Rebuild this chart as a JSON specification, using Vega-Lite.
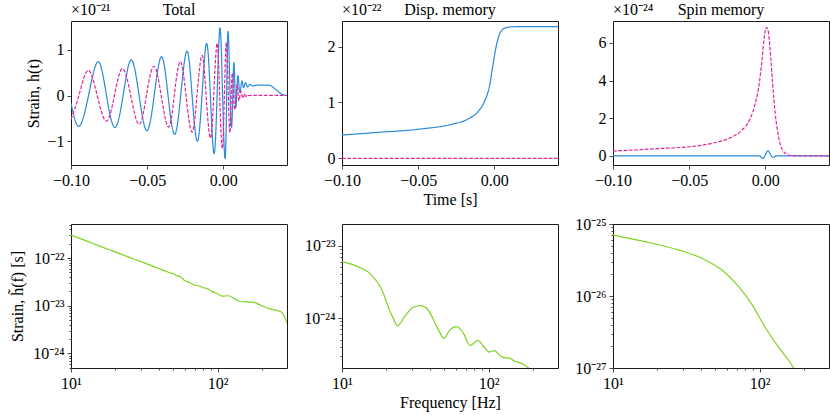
{
  "$schema": "https://vega.github.io/schema/vega-lite/v6.json",
  "padding": {"left": 8, "top": 1, "right": 2, "bottom": 2},
  "background": "white",
  "datasets": {
    "total": [
      {"t": -0.1, "h": -0.17, "pol": "plus"},
      {"t": -0.0947, "h": -0.67, "pol": "plus"},
      {"t": -0.0885, "h": 0, "pol": "plus"},
      {"t": -0.0822, "h": 0.74, "pol": "plus"},
      {"t": -0.0767, "h": 0, "pol": "plus"},
      {"t": -0.0712, "h": -0.7, "pol": "plus"},
      {"t": -0.0658, "h": 0, "pol": "plus"},
      {"t": -0.0605, "h": 0.78, "pol": "plus"},
      {"t": -0.0553, "h": 0, "pol": "plus"},
      {"t": -0.0502, "h": -0.77, "pol": "plus"},
      {"t": -0.0454, "h": 0, "pol": "plus"},
      {"t": -0.0406, "h": 0.85, "pol": "plus"},
      {"t": -0.0363, "h": 0, "pol": "plus"},
      {"t": -0.032, "h": -0.85, "pol": "plus"},
      {"t": -0.028, "h": 0, "pol": "plus"},
      {"t": -0.0239, "h": 0.97, "pol": "plus"},
      {"t": -0.0205, "h": 0, "pol": "plus"},
      {"t": -0.0171, "h": -1.0, "pol": "plus"},
      {"t": -0.014, "h": 0, "pol": "plus"},
      {"t": -0.011, "h": 1.14, "pol": "plus"},
      {"t": -0.0085, "h": 0, "pol": "plus"},
      {"t": -0.0061, "h": -1.27, "pol": "plus"},
      {"t": -0.0041, "h": 0, "pol": "plus"},
      {"t": -0.0022, "h": 1.48, "pol": "plus"},
      {"t": -0.0005, "h": 0, "pol": "plus"},
      {"t": 0.0011, "h": -1.38, "pol": "plus"},
      {"t": 0.0022, "h": 0, "pol": "plus"},
      {"t": 0.0033, "h": 1.33, "pol": "plus"},
      {"t": 0.0053, "h": -0.69, "pol": "plus"},
      {"t": 0.0068, "h": 0.7, "pol": "plus"},
      {"t": 0.0081, "h": -0.24, "pol": "plus"},
      {"t": 0.0094, "h": 0.41, "pol": "plus"},
      {"t": 0.0107, "h": 0.08, "pol": "plus"},
      {"t": 0.0121, "h": 0.31, "pol": "plus"},
      {"t": 0.0132, "h": 0.175, "pol": "plus"},
      {"t": 0.0145, "h": 0.28, "pol": "plus"},
      {"t": 0.0158, "h": 0.19, "pol": "plus"},
      {"t": 0.0173, "h": 0.24, "pol": "plus"},
      {"t": 0.019, "h": 0.21, "pol": "plus"},
      {"t": 0.0217, "h": 0.225, "pol": "plus"},
      {"t": 0.026, "h": 0.228, "pol": "plus"},
      {"t": 0.0303, "h": 0.222, "pol": "plus"},
      {"t": 0.033, "h": 0.17, "pol": "plus"},
      {"t": 0.0349, "h": 0.12, "pol": "plus"},
      {"t": 0.037, "h": 0.06, "pol": "plus"},
      {"t": 0.039, "h": 0.02, "pol": "plus"},
      {"t": 0.0418, "h": 0, "pol": "plus"},
      {"t": -0.1, "h": -0.52, "pol": "cross"},
      {"t": -0.0948, "h": 0, "pol": "cross"},
      {"t": -0.0888, "h": 0.55, "pol": "cross"},
      {"t": -0.0828, "h": 0, "pol": "cross"},
      {"t": -0.0768, "h": -0.56, "pol": "cross"},
      {"t": -0.0715, "h": 0, "pol": "cross"},
      {"t": -0.0662, "h": 0.59, "pol": "cross"},
      {"t": -0.0608, "h": 0, "pol": "cross"},
      {"t": -0.0553, "h": -0.63, "pol": "cross"},
      {"t": -0.0505, "h": 0, "pol": "cross"},
      {"t": -0.0456, "h": 0.64, "pol": "cross"},
      {"t": -0.0408, "h": 0, "pol": "cross"},
      {"t": -0.036, "h": -0.69, "pol": "cross"},
      {"t": -0.0322, "h": 0, "pol": "cross"},
      {"t": -0.0283, "h": 0.74, "pol": "cross"},
      {"t": -0.0245, "h": 0, "pol": "cross"},
      {"t": -0.0206, "h": -0.8, "pol": "cross"},
      {"t": -0.0173, "h": 0, "pol": "cross"},
      {"t": -0.014, "h": 0.88, "pol": "cross"},
      {"t": -0.0113, "h": 0, "pol": "cross"},
      {"t": -0.0085, "h": -0.93, "pol": "cross"},
      {"t": -0.0063, "h": 0, "pol": "cross"},
      {"t": -0.0041, "h": 1.14, "pol": "cross"},
      {"t": -0.0024, "h": 0, "pol": "cross"},
      {"t": -0.0007, "h": -1.16, "pol": "cross"},
      {"t": 0.0007, "h": 0, "pol": "cross"},
      {"t": 0.002, "h": 1.16, "pol": "cross"},
      {"t": 0.0033, "h": 0, "pol": "cross"},
      {"t": 0.0045, "h": -0.75, "pol": "cross"},
      {"t": 0.0058, "h": 0.48, "pol": "cross"},
      {"t": 0.0073, "h": -0.3, "pol": "cross"},
      {"t": 0.0089, "h": 0.22, "pol": "cross"},
      {"t": 0.0101, "h": -0.1, "pol": "cross"},
      {"t": 0.0114, "h": 0.09, "pol": "cross"},
      {"t": 0.0126, "h": -0.05, "pol": "cross"},
      {"t": 0.014, "h": 0.03, "pol": "cross"},
      {"t": 0.0152, "h": -0.01, "pol": "cross"},
      {"t": 0.017, "h": 0, "pol": "cross"},
      {"t": 0.0418, "h": 0, "pol": "cross"}
    ],
    "disp": [
      {"t": -0.1, "h": 0.416, "pol": "plus"},
      {"t": -0.079, "h": 0.46, "pol": "plus"},
      {"t": -0.05, "h": 0.52, "pol": "plus"},
      {"t": -0.028, "h": 0.61, "pol": "plus"},
      {"t": -0.0175, "h": 0.7, "pol": "plus"},
      {"t": -0.0109, "h": 0.83, "pol": "plus"},
      {"t": -0.0066, "h": 1.01, "pol": "plus"},
      {"t": -0.0033, "h": 1.28, "pol": "plus"},
      {"t": -0.0011, "h": 1.64, "pol": "plus"},
      {"t": 0.0011, "h": 1.99, "pol": "plus"},
      {"t": 0.0035, "h": 2.23, "pol": "plus"},
      {"t": 0.0066, "h": 2.33, "pol": "plus"},
      {"t": 0.011, "h": 2.355, "pol": "plus"},
      {"t": 0.02, "h": 2.36, "pol": "plus"},
      {"t": 0.0418, "h": 2.36, "pol": "plus"},
      {"t": -0.1, "h": 0, "pol": "cross"},
      {"t": 0.0418, "h": 0, "pol": "cross"}
    ],
    "spin": [
      {"t": -0.1, "h": 0, "pol": "plus"},
      {"t": -0.004, "h": 0, "pol": "plus"},
      {"t": -0.0015, "h": -0.14, "pol": "plus"},
      {"t": 0.0017, "h": 0.27, "pol": "plus"},
      {"t": 0.0048, "h": -0.08, "pol": "plus"},
      {"t": 0.0076, "h": 0, "pol": "plus"},
      {"t": 0.0418, "h": 0, "pol": "plus"},
      {"t": -0.1, "h": 0.25, "pol": "cross"},
      {"t": -0.0682, "h": 0.39, "pol": "cross"},
      {"t": -0.05, "h": 0.48, "pol": "cross"},
      {"t": -0.0352, "h": 0.66, "pol": "cross"},
      {"t": -0.0242, "h": 0.92, "pol": "cross"},
      {"t": -0.0154, "h": 1.36, "pol": "cross"},
      {"t": -0.0099, "h": 1.98, "pol": "cross"},
      {"t": -0.0066, "h": 2.78, "pol": "cross"},
      {"t": -0.004, "h": 3.84, "pol": "cross"},
      {"t": -0.0022, "h": 5.08, "pol": "cross"},
      {"t": -0.0007, "h": 6.32, "pol": "cross"},
      {"t": 0.0006, "h": 6.82, "pol": "cross"},
      {"t": 0.0017, "h": 6.7, "pol": "cross"},
      {"t": 0.0032, "h": 5.61, "pol": "cross"},
      {"t": 0.0048, "h": 3.84, "pol": "cross"},
      {"t": 0.0065, "h": 2.25, "pol": "cross"},
      {"t": 0.0087, "h": 1.01, "pol": "cross"},
      {"t": 0.0113, "h": 0.3, "pol": "cross"},
      {"t": 0.0153, "h": 0.04, "pol": "cross"},
      {"t": 0.02, "h": 0, "pol": "cross"},
      {"t": 0.0418, "h": 0, "pol": "cross"}
    ],
    "ftotal": [
      {"f": 10, "h": 3.05e-22},
      {"f": 12.59, "h": 2.32e-22},
      {"f": 15.85, "h": 1.76e-22},
      {"f": 19.95, "h": 1.35e-22},
      {"f": 25.12, "h": 1.035e-22},
      {"f": 31.62, "h": 7.94e-23},
      {"f": 39.81, "h": 6.03e-23},
      {"f": 44.67, "h": 5.25e-23},
      {"f": 47.86, "h": 4.84e-23},
      {"f": 50.12, "h": 4.68e-23},
      {"f": 52.48, "h": 4.27e-23},
      {"f": 54.95, "h": 4.17e-23},
      {"f": 57.54, "h": 3.72e-23},
      {"f": 60.26, "h": 3.31e-23},
      {"f": 63.1, "h": 3.16e-23},
      {"f": 66.07, "h": 2.95e-23},
      {"f": 69.98, "h": 2.69e-23},
      {"f": 74.13, "h": 2.63e-23},
      {"f": 79.43, "h": 2.4e-23},
      {"f": 85.11, "h": 2.29e-23},
      {"f": 91.2, "h": 2.0e-23},
      {"f": 100, "h": 1.78e-23},
      {"f": 107.2, "h": 1.585e-23},
      {"f": 118.9, "h": 1.62e-23},
      {"f": 128.8, "h": 1.445e-23},
      {"f": 139.3, "h": 1.26e-23},
      {"f": 158.5, "h": 1.2e-23},
      {"f": 177.8, "h": 1.175e-23},
      {"f": 199.5, "h": 1.0e-23},
      {"f": 223.9, "h": 8.71e-24},
      {"f": 251.2, "h": 8.04e-24},
      {"f": 269.2, "h": 7.59e-24},
      {"f": 283.8, "h": 6.31e-24},
      {"f": 297.9, "h": 4.37e-24}
    ],
    "fdisp": [
      {"f": 10, "h": 6.03e-24},
      {"f": 12.8, "h": 5.13e-24},
      {"f": 15.8, "h": 3.98e-24},
      {"f": 18.5, "h": 2.57e-24},
      {"f": 21.1, "h": 1.29e-24},
      {"f": 22.6, "h": 9.5e-25},
      {"f": 23.9, "h": 7.76e-25},
      {"f": 26.8, "h": 1.05e-24},
      {"f": 30.6, "h": 1.41e-24},
      {"f": 34.5, "h": 1.48e-24},
      {"f": 38.7, "h": 1.29e-24},
      {"f": 45.4, "h": 6.92e-25},
      {"f": 49.6, "h": 5.25e-25},
      {"f": 54.6, "h": 6.92e-25},
      {"f": 60.6, "h": 7.59e-25},
      {"f": 67.3, "h": 6.17e-25},
      {"f": 74.8, "h": 4.17e-25},
      {"f": 84.5, "h": 4.9e-25},
      {"f": 92.4, "h": 4.07e-25},
      {"f": 101.6, "h": 3.39e-25},
      {"f": 110, "h": 3.55e-25},
      {"f": 120, "h": 3.02e-25},
      {"f": 130, "h": 2.82e-25},
      {"f": 137, "h": 2.82e-25},
      {"f": 152, "h": 2.51e-25},
      {"f": 165, "h": 2.4e-25},
      {"f": 190, "h": 2.0e-25},
      {"f": 224, "h": 1.41e-25},
      {"f": 298, "h": 6.3e-26}
    ],
    "fspin": [
      {"f": 10, "h": 7.0e-26},
      {"f": 16.5, "h": 5.69e-26},
      {"f": 27.9, "h": 4.37e-26},
      {"f": 40.4, "h": 3.35e-26},
      {"f": 55.4, "h": 2.29e-26},
      {"f": 72.1, "h": 1.35e-26},
      {"f": 88.9, "h": 7.59e-27},
      {"f": 110, "h": 3.59e-27},
      {"f": 136, "h": 1.9e-27},
      {"f": 159, "h": 1.26e-27},
      {"f": 181, "h": 8.3e-28},
      {"f": 200, "h": 6.0e-28}
    ]
  },
  "columns": 3,
  "spacing": {"row": 59, "column": 55},
  "bounds": "flush",
  "concat": [
    {
      "width": 216,
      "height": 144,
      "layer": [
        {
          "data": {"name": "total"},
          "mark": {"type": "line", "interpolate": "natural", "strokeWidth": 1.2, "clip": true},
          "encoding": {
            "x": {"field": "t", "type": "quantitative", "scale": {"domain": [-0.1, 0.0418], "nice": false, "zero": false},
                  "axis": {"values": [-0.1, -0.05, 0], "format": ".2f", "title": null}},
            "y": {"field": "h", "type": "quantitative", "scale": {"domain": [-1.52, 1.63], "nice": false, "zero": false},
                  "axis": {"values": [-1, 0, 1], "format": "d", "title": "Strain, h(t)", "minExtent": 26, "maxExtent": 26, "titlePadding": 4}},
            "color": {"field": "pol", "type": "nominal", "scale": {"domain": ["plus", "cross"], "range": ["#2a8ad8", "#e0269a"]}, "legend": null},
            "strokeDash": {"field": "pol", "type": "nominal", "scale": {"domain": ["plus", "cross"], "range": [[1, 0], [3.7, 1.6]]}, "legend": null}
          }
        },
        {
          "data": {"values": [{"s": "×10⁻²¹"}]},
          "mark": {"type": "text", "align": "left", "baseline": "alphabetic", "dy": -6, "fontSize": 16},
          "encoding": {"x": {"datum": -0.1}, "y": {"datum": 1.63}, "text": {"field": "s"}}
        },
        {
          "data": {"values": [{"s": "Total"}]},
          "mark": {"type": "text", "align": "center", "baseline": "alphabetic", "dy": -6, "fontSize": 16},
          "encoding": {"x": {"datum": -0.0291}, "y": {"datum": 1.63}, "text": {"field": "s"}}
        }
      ]
    },
    {
      "width": 216,
      "height": 144,
      "layer": [
        {
          "data": {"name": "disp"},
          "mark": {"type": "line", "interpolate": "monotone", "strokeWidth": 1.2, "clip": true},
          "encoding": {
            "x": {"field": "t", "type": "quantitative", "scale": {"domain": [-0.1, 0.0418], "nice": false, "zero": false},
                  "axis": {"values": [-0.1, -0.05, 0], "format": ".2f", "title": "Time [s]", "minExtent": 22, "maxExtent": 22, "titlePadding": 4}},
            "y": {"field": "h", "type": "quantitative", "scale": {"domain": [-0.12, 2.46], "nice": false, "zero": false},
                  "axis": {"values": [0, 1, 2], "format": "d", "title": null}},
            "color": {"field": "pol", "type": "nominal", "scale": {"domain": ["plus", "cross"], "range": ["#2a8ad8", "#e0269a"]}, "legend": null},
            "strokeDash": {"field": "pol", "type": "nominal", "scale": {"domain": ["plus", "cross"], "range": [[1, 0], [3.7, 1.6]]}, "legend": null}
          }
        },
        {
          "data": {"values": [{"s": "×10⁻²²"}]},
          "mark": {"type": "text", "align": "left", "baseline": "alphabetic", "dy": -6, "fontSize": 16},
          "encoding": {"x": {"datum": -0.1}, "y": {"datum": 2.46}, "text": {"field": "s"}}
        },
        {
          "data": {"values": [{"s": "Disp. memory"}]},
          "mark": {"type": "text", "align": "center", "baseline": "alphabetic", "dy": -6, "fontSize": 16},
          "encoding": {"x": {"datum": -0.0291}, "y": {"datum": 2.46}, "text": {"field": "s"}}
        }
      ]
    },
    {
      "width": 216,
      "height": 144,
      "layer": [
        {
          "data": {"name": "spin"},
          "mark": {"type": "line", "interpolate": "monotone", "strokeWidth": 1.2, "clip": true},
          "encoding": {
            "x": {"field": "t", "type": "quantitative", "scale": {"domain": [-0.1, 0.0418], "nice": false, "zero": false},
                  "axis": {"values": [-0.1, -0.05, 0], "format": ".2f", "title": null}},
            "y": {"field": "h", "type": "quantitative", "scale": {"domain": [-0.49, 7.17], "nice": false, "zero": false},
                  "axis": {"values": [0, 2, 4, 6], "format": "d", "title": null}},
            "color": {"field": "pol", "type": "nominal", "scale": {"domain": ["plus", "cross"], "range": ["#2a8ad8", "#e0269a"]}, "legend": null},
            "strokeDash": {"field": "pol", "type": "nominal", "scale": {"domain": ["plus", "cross"], "range": [[1, 0], [3.7, 1.6]]}, "legend": null}
          }
        },
        {
          "data": {"values": [{"s": "×10⁻²⁴"}]},
          "mark": {"type": "text", "align": "left", "baseline": "alphabetic", "dy": -6, "fontSize": 16},
          "encoding": {"x": {"datum": -0.1}, "y": {"datum": 7.17}, "text": {"field": "s"}}
        },
        {
          "data": {"values": [{"s": "Spin memory"}]},
          "mark": {"type": "text", "align": "center", "baseline": "alphabetic", "dy": -6, "fontSize": 16},
          "encoding": {"x": {"datum": -0.0291}, "y": {"datum": 7.17}, "text": {"field": "s"}}
        }
      ]
    },
    {
      "width": 216,
      "height": 144,
      "data": {"name": "ftotal"},
      "mark": {"type": "line", "interpolate": "monotone", "strokeWidth": 1.2, "color": "#7ed321", "clip": true},
      "encoding": {
        "x": {"field": "f", "type": "quantitative", "scale": {"type": "log", "domain": [10, 298], "nice": false},
              "axis": {"values": [10, 20, 30, 40, 50, 60, 70, 80, 90, 100, 200], "title": null,
                       "labelExpr": "datum.value == 10 ? '10¹' : datum.value == 100 ? '10²' : ''",
                       "tickSize": {"condition": {"test": "datum.value == 10 || datum.value == 100", "value": 4}, "value": 2}}},
        "y": {"field": "h", "type": "quantitative", "scale": {"type": "log", "domain": [4.94e-25, 5.19e-22], "nice": false},
              "axis": {"values": [5e-25, 6e-25, 7e-25, 8e-25, 9e-25, 1e-24, 2e-24, 3e-24, 4e-24, 5e-24, 6e-24, 7e-24, 8e-24, 9e-24, 1e-23, 2e-23, 3e-23, 4e-23, 5e-23, 6e-23, 7e-23, 8e-23, 9e-23, 1e-22, 2e-22, 3e-22, 4e-22, 5e-22],
                       "title": "Strain, h̃(f) [s]", "minExtent": 42, "maxExtent": 42, "titlePadding": 4,
                       "labelExpr": "abs(log(datum.value)/LN10 - round(log(datum.value)/LN10)) > 0.01 ? '' : '10⁻²' + ['⁰','¹','²','³','⁴','⁵','⁶','⁷','⁸','⁹'][(-round(log(datum.value)/LN10)) % 10]",
                       "tickSize": {"condition": {"test": "abs(log(datum.value)/LN10 - round(log(datum.value)/LN10)) < 0.01", "value": 4}, "value": 2}}}
      }
    },
    {
      "width": 216,
      "height": 144,
      "data": {"name": "fdisp"},
      "mark": {"type": "line", "interpolate": "monotone", "strokeWidth": 1.2, "color": "#7ed321", "clip": true},
      "encoding": {
        "x": {"field": "f", "type": "quantitative", "scale": {"type": "log", "domain": [10, 298], "nice": false},
              "axis": {"values": [10, 20, 30, 40, 50, 60, 70, 80, 90, 100, 200], "title": "Frequency [Hz]", "minExtent": 22, "maxExtent": 22, "titlePadding": 4,
                       "labelExpr": "datum.value == 10 ? '10¹' : datum.value == 100 ? '10²' : ''",
                       "tickSize": {"condition": {"test": "datum.value == 10 || datum.value == 100", "value": 4}, "value": 2}}},
        "y": {"field": "h", "type": "quantitative", "scale": {"type": "log", "domain": [2.04e-25, 1.99e-23], "nice": false},
              "axis": {"values": [3e-25, 4e-25, 5e-25, 6e-25, 7e-25, 8e-25, 9e-25, 1e-24, 2e-24, 3e-24, 4e-24, 5e-24, 6e-24, 7e-24, 8e-24, 9e-24, 1e-23],
                       "title": null,
                       "labelExpr": "abs(log(datum.value)/LN10 - round(log(datum.value)/LN10)) > 0.01 ? '' : '10⁻²' + ['⁰','¹','²','³','⁴','⁵','⁶','⁷','⁸','⁹'][(-round(log(datum.value)/LN10)) % 10]",
                       "tickSize": {"condition": {"test": "abs(log(datum.value)/LN10 - round(log(datum.value)/LN10)) < 0.01", "value": 4}, "value": 2}}}
      }
    },
    {
      "width": 216,
      "height": 144,
      "data": {"name": "fspin"},
      "mark": {"type": "line", "interpolate": "monotone", "strokeWidth": 1.2, "color": "#7ed321", "clip": true},
      "encoding": {
        "x": {"field": "f", "type": "quantitative", "scale": {"type": "log", "domain": [10, 298], "nice": false},
              "axis": {"values": [10, 20, 30, 40, 50, 60, 70, 80, 90, 100, 200], "title": null,
                       "labelExpr": "datum.value == 10 ? '10¹' : datum.value == 100 ? '10²' : ''",
                       "tickSize": {"condition": {"test": "datum.value == 10 || datum.value == 100", "value": 4}, "value": 2}}},
        "y": {"field": "h", "type": "quantitative", "scale": {"type": "log", "domain": [1e-27, 1e-25], "nice": false},
              "axis": {"values": [1e-27, 2e-27, 3e-27, 4e-27, 5e-27, 6e-27, 7e-27, 8e-27, 9e-27, 1e-26, 2e-26, 3e-26, 4e-26, 5e-26, 6e-26, 7e-26, 8e-26, 9e-26, 1e-25],
                       "title": null,
                       "labelExpr": "abs(log(datum.value)/LN10 - round(log(datum.value)/LN10)) > 0.01 ? '' : '10⁻²' + ['⁰','¹','²','³','⁴','⁵','⁶','⁷','⁸','⁹'][(-round(log(datum.value)/LN10)) % 10]",
                       "tickSize": {"condition": {"test": "abs(log(datum.value)/LN10 - round(log(datum.value)/LN10)) < 0.01", "value": 4}, "value": 2}}}
      }
    }
  ],
  "config": {
    "font": "Liberation Serif",
    "view": {"stroke": "#1a1a1a", "strokeWidth": 1},
    "axis": {
      "domain": false,
      "grid": false,
      "ticks": true,
      "tickColor": "#1a1a1a",
      "tickWidth": 0.8,
      "tickSize": 4,
      "labelColor": "#000",
      "labelFont": "Liberation Serif",
      "labelFontSize": 16,
      "labelPadding": 3,
      "labelFlush": false,
      "labelOverlap": false,
      "titleFont": "Liberation Serif",
      "titleFontSize": 16,
      "titleFontWeight": "normal",
      "titleColor": "#000"
    },
    "text": {"font": "Liberation Serif", "color": "#000"}
  }
}
